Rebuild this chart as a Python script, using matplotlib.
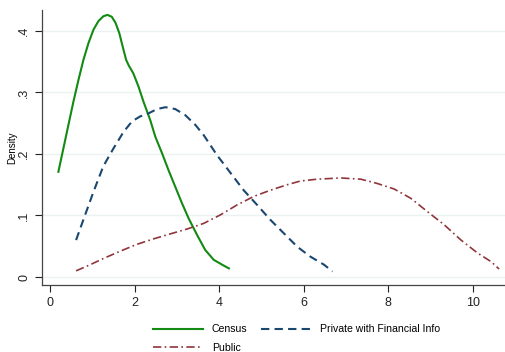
import matplotlib
matplotlib.use("Agg")
import matplotlib.pyplot as plt

plt.rcParams['font.family'] = ['Liberation Sans', 'DejaVu Sans']

census_x = [0.197, 0.316, 0.434, 0.553, 0.671, 0.79, 0.908, 1.027, 1.145, 1.264, 1.36, 1.46, 1.55, 1.64, 1.72, 1.80, 1.86,
            1.97, 2.09, 2.21, 2.37, 2.49, 2.65, 2.80, 2.96, 3.12, 3.28, 3.48, 3.67, 3.87, 4.07, 4.23]
census_y = [0.171, 0.209, 0.247, 0.285, 0.320, 0.353, 0.380, 0.402, 0.416, 0.424, 0.426, 0.423, 0.413, 0.396, 0.374, 0.353, 0.344,
            0.331, 0.310, 0.285, 0.255, 0.228, 0.201, 0.174, 0.147, 0.120, 0.095, 0.068, 0.044, 0.028, 0.020, 0.014]

private_x = [0.616, 0.83, 1.03, 1.26, 1.50, 1.74, 1.94, 2.13, 2.33, 2.53, 2.73, 2.96, 3.20, 3.44, 3.63, 3.95, 4.27, 4.58,
             4.90, 5.21, 5.53, 5.85, 6.16, 6.48, 6.68]
private_y = [0.060, 0.101, 0.139, 0.180, 0.209, 0.236, 0.253, 0.261, 0.266, 0.273, 0.276, 0.273, 0.263, 0.247, 0.231, 0.198, 0.169, 0.141,
             0.117, 0.093, 0.071, 0.049, 0.033, 0.020, 0.009]

public_x = [0.616, 0.95, 1.26, 1.66, 2.05, 2.45, 2.84, 3.24, 3.63, 4.03, 4.42, 4.82, 5.21, 5.61, 5.92, 6.32, 6.87, 7.35, 7.74,
            8.14, 8.53, 8.93, 9.32, 9.72, 10.11, 10.43, 10.62]
public_y = [0.010, 0.020, 0.030, 0.042, 0.053, 0.062, 0.070, 0.078, 0.087, 0.101, 0.117, 0.131, 0.141, 0.150, 0.156, 0.159, 0.161, 0.159, 0.152,
            0.143, 0.128, 0.106, 0.085, 0.060, 0.039, 0.025, 0.013]

xticks = [0, 2, 4, 6, 8, 10]
yticks = [0, 0.1, 0.2, 0.3, 0.4]
yticklabels = ['0', '.1', '.2', '.3', '.4']

fig = plt.figure(figsize=(5.06, 3.52), dpi=100)
ax = fig.add_axes([42/506, 67/352, (505-42)/506, (342-67)/352])

for y in yticks:
    ax.axhline(y, color='#eaf2f3', lw=1.0, zorder=0)

l1, = ax.plot(census_x, census_y, color='#138a13', lw=1.5, label='Census')
l2, = ax.plot(private_x, private_y, color='#1a476f', lw=1.5, ls=(0, (4, 2.5)), label='Private with Financial Info')
l3, = ax.plot(public_x, public_y, color='#90353b', lw=1.2, ls=(0, (5, 2, 1, 2)), label='Public')

ax.set_xlim(-0.19, 10.76)
ax.set_ylim(-0.013, 0.434)
ax.set_xticks(xticks)
ax.set_xticklabels([str(t) for t in xticks])
ax.set_yticks(yticks)
ax.set_yticklabels(yticklabels, rotation=90, va='center')
ax.tick_params(axis='both', direction='out', length=5, width=0.8, colors='#222222', labelsize=9)
ax.set_ylabel('Density', fontsize=7)
ax.yaxis.set_label_coords(-0.053, 0.5)
for s in ['top', 'right']:
    ax.spines[s].set_visible(False)
for s in ['left', 'bottom']:
    ax.spines[s].set_color('#444444')
    ax.spines[s].set_linewidth(0.9)

fig.legend([l1, l3, l2], ['Census', 'Public', 'Private with Financial Info'],
           ncol=2, loc='upper left', bbox_to_anchor=(149/506, 1 - 320/352),
           frameon=False, fontsize=7.6, handlelength=4.7, columnspacing=1.3,
           labelspacing=0.8, handletextpad=0.85, borderaxespad=0)

fig.savefig('out.png', dpi=100, facecolor='white')
